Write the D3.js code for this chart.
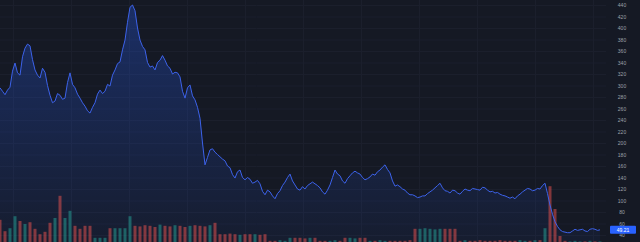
<!DOCTYPE html>
<html lang="en">
<head>
<meta charset="utf-8">
<title>Price chart</title>
<script src="https://d3js.org/d3.v7.min.js"></script>
<style>
  html, body { margin: 0; padding: 0; background: #151924; }
  svg { display: block; }
  text { font-family: "Liberation Sans", "DejaVu Sans", sans-serif; }
</style>
</head>
<body>
<script>
// closing prices, two per volume period
var closes = [
  296, 290, 284, 292, 297, 325, 339, 322, 318, 350, 365, 372, 369, 345, 327, 318, 313, 330, 323, 300,
  283, 270, 273, 286, 283, 276, 278, 305, 322, 302, 296, 285, 278, 270, 264, 256, 252, 262, 270, 285,
  292, 286, 290, 302, 299, 318, 327, 338, 341, 362, 379, 410, 436, 440, 430, 400, 379, 368, 362, 340,
  332, 334, 327, 340, 344, 352, 344, 334, 330, 320, 323, 322, 315, 290, 278, 296, 301, 282, 275, 262,
  243, 200, 162, 175, 188, 190, 184, 180, 176, 172, 169, 160, 157, 145, 139, 150, 153, 140, 136, 140,
  137, 130, 132, 135, 129, 116, 110, 118, 115, 108, 103, 112, 117, 126, 132, 140, 146, 134, 127, 120,
  118, 124, 120, 126, 129, 132, 129, 126, 122, 115, 111, 118, 127, 140, 153, 146, 143, 134, 130, 138,
  143, 148, 151, 148, 146, 140, 136, 138, 141, 146, 144, 150, 153, 158, 162, 154, 148, 134, 125, 127,
  124, 120, 118, 113, 110, 110, 108, 105, 106, 108, 108, 112, 115, 118, 122, 126, 130, 122, 117, 116,
  113, 118, 117, 113, 111, 116, 120, 118, 117, 121, 120, 119, 118, 123, 122, 118, 115, 116, 113, 114,
  111, 109, 108, 106, 104, 106, 103, 108, 111, 115, 118, 121, 120, 117, 118, 121, 120, 126, 130, 112,
  92, 76, 63, 55, 49, 46, 45, 44, 44, 47, 50, 48, 49, 50, 47, 46, 50, 51, 50, 48,
  49];

// volume in millions, one per period
var volumes = [37, 18, 23, 43, 35, 30, 33, 22, 13, 17,
               32, 40, 77, 40, 52, 27, 22, 27, 27, 7,
               7, 7, 23, 23, 23, 23, 43, 27, 26, 28,
               27, 25, 29, 27, 26, 28, 27, 25, 27, 28,
               27, 26, 28, 32, 13, 13, 14, 13, 12, 13,
               13, 13, 12, 13, 2, 2, 3, 2, 7, 7,
               7, 6, 7, 7, 2, 2, 2, 3, 2, 7,
               7, 6, 7, 7, 2, 2, 3, 2, 2, 2,
               2, 2, 3, 22, 22, 23, 22, 21, 22, 22,
               22, 22, 2, 3, 2, 2, 3, 2, 2, 2,
               3, 2, 2, 2, 3, 2, 2, 3, 3, 23,
               93, 55, 10, 2, 1, 2, 1, 1, 2, 1, 1];

var priceTicks = d3.range(40, 441, 20);
var lastLabel = "49.21";

var W = 640, H = 242;
var plotRight = 606;

var svg = d3.select("body").append("svg")
    .attr("width", W)
    .attr("height", H);

svg.append("rect").attr("width", W).attr("height", H).attr("fill", "#151924");

var x = d3.scaleLinear().domain([0, closes.length - 1]).range([0, 600]);
var xVol = d3.scaleLinear().domain([0, volumes.length - 1]).range([0, 600]);
var y = d3.scaleLinear().domain([40, 440]).range([235, 5]);
var yVol = d3.scaleLinear().domain([0, 100]).range([H, H - 60]);

// grid
var grid = svg.append("g");
grid.selectAll("line.h")
    .data(priceTicks)
    .enter().append("line")
    .attr("x1", 0).attr("x2", plotRight)
    .attr("y1", function(d) { return y(d) + 0.5; })
    .attr("y2", function(d) { return y(d) + 0.5; })
    .attr("stroke", "#1b1f2c");
var vGrid = d3.range(13, plotRight, 58);
grid.selectAll("line.v")
    .data(vGrid)
    .enter().append("line")
    .attr("x1", function(d) { return d + 0.5; })
    .attr("x2", function(d) { return d + 0.5; })
    .attr("y1", 0).attr("y2", H)
    .attr("stroke", "#1b1f2c");

// gradient for the area
var grad = svg.append("defs").append("linearGradient")
    .attr("id", "areaGrad")
    .attr("x1", 0).attr("y1", 0).attr("x2", 0).attr("y2", 1);
grad.append("stop").attr("offset", "0%").attr("stop-color", "#2962ff").attr("stop-opacity", 0.3);
grad.append("stop").attr("offset", "100%").attr("stop-color", "#2962ff").attr("stop-opacity", 0.05);

var area = d3.area()
    .x(function(d, i) { return x(i); })
    .y0(H)
    .y1(function(d) { return y(d); });

svg.append("path")
    .datum(closes)
    .attr("d", area)
    .attr("fill", "url(#areaGrad)");

// volume bars, coloured by the move over the period
svg.append("g").selectAll("rect")
    .data(volumes)
    .enter().append("rect")
    .attr("x", function(d, i) { return xVol(i) - 1.5; })
    .attr("width", 3)
    .attr("y", function(d) { return yVol(d); })
    .attr("height", function(d) { return H - yVol(d); })
    .attr("fill", function(d, i) {
        var up = i === 0 ? false : closes[2 * i] >= closes[2 * i - 1];
        return up ? "#26a69a" : "#ef5350";
    })
    .attr("opacity", 0.5);

// price line
var line = d3.line()
    .x(function(d, i) { return x(i); })
    .y(function(d) { return y(d); });

svg.append("path")
    .datum(closes)
    .attr("d", line)
    .attr("fill", "none")
    .attr("stroke", "#3c62ea")
    .attr("stroke-width", 1);

// right price scale
svg.append("rect")
    .attr("x", plotRight).attr("y", 0)
    .attr("width", W - plotRight).attr("height", H)
    .attr("fill", "#151924");

var yAxis = d3.axisRight(y).tickValues(priceTicks).tickSize(0).tickPadding(0);
var ax = svg.append("g")
    .attr("transform", "translate(" + (plotRight + 16) + ",0)")
    .call(yAxis);
ax.select(".domain").remove();
ax.selectAll("text")
    .attr("text-anchor", "middle")
    .attr("fill", "#9ea1aa")
    .attr("font-size", 5);

// last price label
var last = closes[closes.length - 1];
svg.append("rect")
    .attr("x", plotRight + 4).attr("y", y(last) - 4)
    .attr("width", 26).attr("height", 8)
    .attr("rx", 1)
    .attr("fill", "#2962ff");
svg.append("text")
    .attr("x", plotRight + 17).attr("y", y(last) + 2)
    .attr("text-anchor", "middle")
    .attr("fill", "#ffffff")
    .attr("font-size", 5)
    .text(lastLabel);
</script>
</body>
</html>
